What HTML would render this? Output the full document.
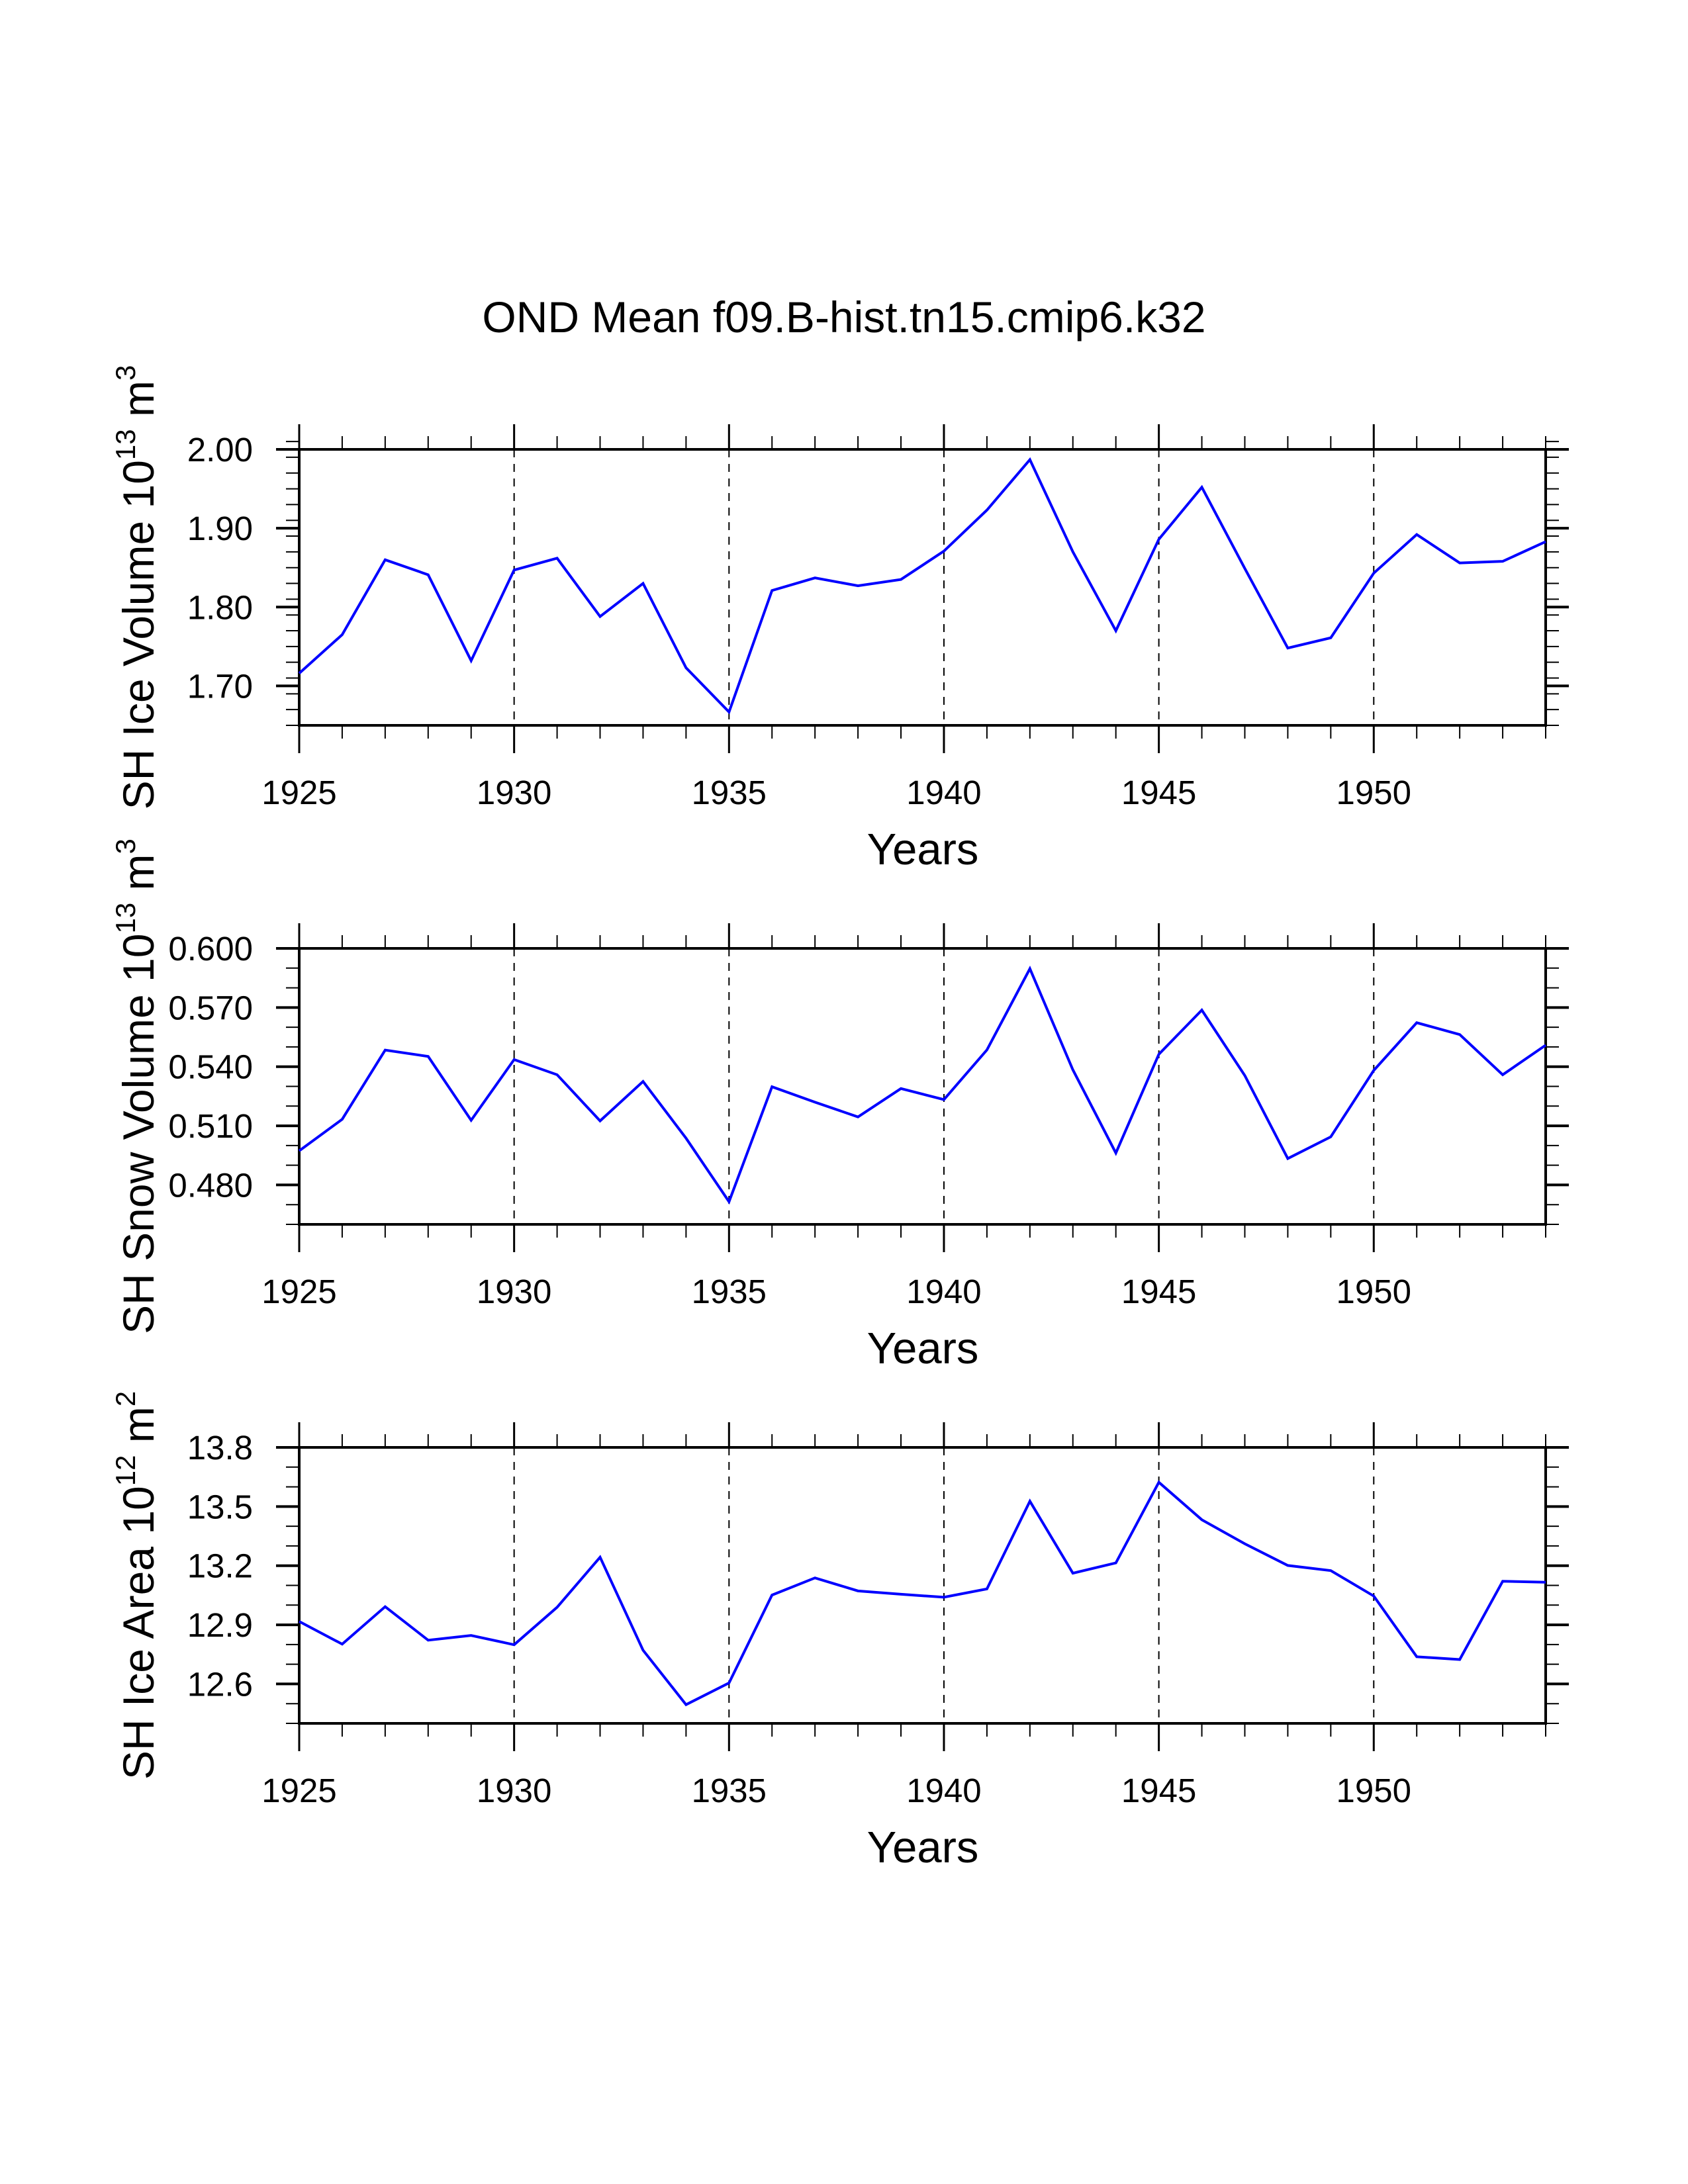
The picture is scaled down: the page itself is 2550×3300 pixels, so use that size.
<!DOCTYPE html>
<html><head><meta charset="utf-8"><style>
html,body{margin:0;padding:0;background:#fff;}
svg{display:block;}
text{font-family:"Liberation Sans",sans-serif;fill:#000;}
</style></head>
<body>
<svg id="chart" width="2550" height="3300" viewBox="0 0 2550 3300" xmlns="http://www.w3.org/2000/svg">
<text x="1275" y="502" font-size="66" text-anchor="middle">OND Mean f09.B-hist.tn15.cmip6.k32</text>
</svg>
<script>
const years = [1925,1926,1927,1928,1929,1930,1931,1932,1933,1934,1935,1936,1937,1938,1939,1940,1941,1942,1943,1944,1945,1946,1947,1948,1949,1950,1951,1952,1953,1954];
const iceVolume = [1.716,1.765,1.860,1.841,1.732,1.847,1.862,1.788,1.830,1.723,1.667,1.821,1.837,1.827,1.835,1.871,1.923,1.987,1.870,1.770,1.886,1.952,1.849,1.748,1.761,1.843,1.892,1.856,1.858,1.883];
const snowVolume = [0.4973,0.5133,0.5484,0.5452,0.5128,0.5436,0.5359,0.5125,0.5325,0.5037,0.4715,0.5298,0.5220,0.5145,0.5289,0.5233,0.5485,0.5897,0.5384,0.4962,0.5463,0.5687,0.5355,0.4934,0.5044,0.5381,0.5623,0.5563,0.5359,0.5509];
const iceArea = [12.917,12.802,12.992,12.822,12.846,12.799,12.989,13.243,12.771,12.495,12.605,13.051,13.138,13.072,13.055,13.040,13.082,13.527,13.162,13.214,13.623,13.433,13.311,13.201,13.175,13.046,12.738,12.724,13.121,13.116];
const xTickLabels = [1925,1930,1935,1940,1945,1950];
const iceVolumeTicks = ["1.70","1.80","1.90","2.00"];
const snowVolumeTicks = ["0.480","0.510","0.540","0.570","0.600"];
const iceAreaTicks = ["12.6","12.9","13.2","13.5","13.8"];

const NS="http://www.w3.org/2000/svg";
const svg=document.getElementById('chart');
function mk(tag,attrs,parent){const e=document.createElementNS(NS,tag);for(const k in attrs)e.setAttribute(k,attrs[k]);(parent||svg).appendChild(e);return e;}

const L=452,R=2335,X0=1925,X1=1954;
function xs(v){return L+(v-X0)/(X1-X0)*(R-L);}

function panel(name,top,bot,ymin,ymax,ticks,minorStep,data,titleMain,exp,unit,unitExp){
  const g=mk('g',{});
  
  
  const ys=v=>bot-(v-ymin)/(ymax-ymin)*(bot-top);
  for(const t of xTickLabels){ if(t===1925) continue;
    const l=mk('line',{x1:xs(t),x2:xs(t),y1:top,y2:bot,stroke:'#000','stroke-width':2,'stroke-dasharray':'12,10'},g);
    
    
  }
  for(let yr=X0;yr<=X1;yr++){
    const major=(yr%5===0);
    const len=major?38:20;
    mk('line',{x1:xs(yr),x2:xs(yr),y1:top,y2:top-len,stroke:'#000','stroke-width':major?3:2},g);
    mk('line',{x1:xs(yr),x2:xs(yr),y1:bot,y2:bot+(major?42:20),stroke:'#000','stroke-width':major?3:2},g);
  }
  for(const t of xTickLabels){
    const tx=mk('text',{x:xs(t),y:bot+119,'font-size':51,'text-anchor':'middle'},g);
    tx.textContent=t;
    
    
  }
  const n=Math.round((ymax-ymin)/minorStep);
  for(let i=0;i<=n;i++){
    const v=ymin+i*minorStep, y=ys(v);
    mk('line',{x1:L,x2:L-20,y1:y,y2:y,stroke:'#000','stroke-width':2},g);
    mk('line',{x1:R,x2:R+20,y1:y,y2:y,stroke:'#000','stroke-width':2},g);
  }
  for(const t of ticks){
    const y=ys(parseFloat(t));
    mk('line',{x1:L,x2:L-35,y1:y,y2:y,stroke:'#000','stroke-width':4},g);
    mk('line',{x1:R,x2:R+35,y1:y,y2:y,stroke:'#000','stroke-width':4},g);
    const tx=mk('text',{x:L-70,y:y+18,'font-size':51,'text-anchor':'end'},g);
    tx.textContent=t;
    
    
  }
  mk('rect',{x:L,y:top,width:R-L,height:bot-top,fill:'none',stroke:'#000','stroke-width':4},g);
  const pts=years.map((yr,i)=>xs(yr)+','+ys(data[i])).join(' ');
  const pl=mk('polyline',{points:pts,fill:'none',stroke:'#0000ff','stroke-width':4,'stroke-linejoin':'miter'},g);
  
  
  const xt=mk('text',{x:1394,y:bot+210,'font-size':67,'text-anchor':'middle'},g);
  xt.textContent='Years';
  
  
  const cy=(top+bot)/2;
  const yt=mk('text',{x:0,y:0,'font-size':66,'text-anchor':'middle',transform:'translate(232,'+cy+') rotate(-90)'},g);
  
  
  yt.appendChild(document.createTextNode(titleMain+' 10'));
  const s1=mk('tspan',{dy:-28,'font-size':42},yt); s1.textContent=exp;
  const s2=mk('tspan',{dy:28},yt); s2.textContent=' '+unit;
  const s3=mk('tspan',{dy:-28,'font-size':42},yt); s3.textContent=unitExp;
}
panel('ice-volume',679,1096,1.65,2.00,iceVolumeTicks,0.02,iceVolume,'SH Ice Volume','13','m','3');
panel('snow-volume',1433,1850,0.46,0.60,snowVolumeTicks,0.01,snowVolume,'SH Snow Volume','13','m','3');
panel('ice-area',2187,2604,12.4,13.8,iceAreaTicks,0.1,iceArea,'SH Ice Area','12','m','2');
</script>
</body></html>
